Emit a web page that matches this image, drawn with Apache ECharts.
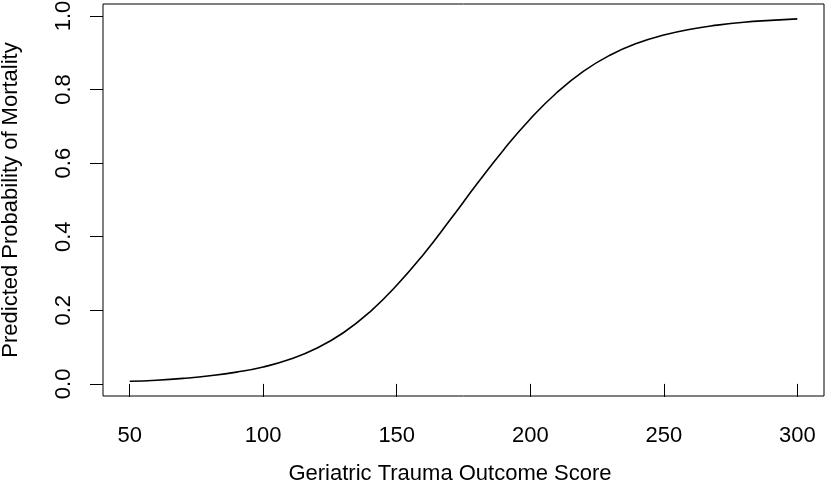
<!DOCTYPE html>
<html>
<head>
<meta charset="utf-8">
<script src="https://cdn.jsdelivr.net/npm/echarts@6/dist/echarts.min.js"></script>
<style>
html,body{margin:0;padding:0;background:#fff;}
#chart{width:827px;height:495px;}
</style>
</head>
<body>
<div id="chart"></div>
<script>
// Geriatric Trauma Outcome Score (x) and predicted probability of mortality (y)
var scoreValues = [50, 60, 70, 80, 90, 100, 110, 120, 130, 140, 150, 160, 170, 180, 190, 200, 210, 220, 230, 240, 250, 260, 270, 280, 290, 300];
var probValues  = [0.007, 0.010, 0.015, 0.022, 0.032, 0.046, 0.067, 0.097, 0.139, 0.196, 0.268, 0.352, 0.446, 0.543, 0.636, 0.720, 0.792, 0.850, 0.894, 0.926, 0.948, 0.964, 0.975, 0.983, 0.988, 0.992];
var xTicks = [50, 100, 150, 200, 250, 300];
var yTicks = [0, 0.2, 0.4, 0.6, 0.8, 1.0];
var xTitle = 'Geriatric Trauma Outcome Score';
var yTitle = 'Predicted Probability of Mortality';

var FONT = '"Liberation Sans", Arial, Helvetica, sans-serif';
var chart = echarts.init(document.getElementById('chart'), null, {renderer: 'canvas'});
var points = scoreValues.map(function (x, i) { return [x, probValues[i]]; });

chart.setOption({
  animation: false,
  backgroundColor: '#ffffff',
  grid: {
    left: 103, right: 3, top: 4, bottom: 99,
    outerBoundsMode: 'none',
    containLabel: false,
    show: true, borderColor: '#000', borderWidth: 1, backgroundColor: 'transparent'
  },
  xAxis: {
    type: 'value',
    min: 40, max: 310,
    name: xTitle,
    nameLocation: 'middle',
    nameGap: 67,
    nameTextStyle: {fontFamily: FONT, fontSize: 22, color: '#000', padding: [0, 27, 0, 0]},
    axisLine: {show: false},
    splitLine: {show: false},
    axisTick: {show: true, length: 13, customValues: xTicks, lineStyle: {color: '#000', width: 1}},
    axisLabel: {
      customValues: xTicks,
      margin: 29,
      fontFamily: FONT, fontSize: 22, color: '#000',
      formatter: function (v) { return String(v); }
    }
  },
  yAxis: {
    type: 'value',
    min: -0.0329, max: 1.0325,
    name: yTitle,
    nameLocation: 'middle',
    nameGap: 81,
    nameRotate: 90,
    nameTextStyle: {fontFamily: FONT, fontSize: 22, color: '#000'},
    axisLine: {show: false},
    splitLine: {show: false},
    axisTick: {show: true, length: 13, customValues: yTicks, lineStyle: {color: '#000', width: 1}},
    axisLabel: {
      customValues: yTicks,
      rotate: 90,
      margin: 28,
      fontFamily: FONT, fontSize: 22, color: '#000',
      formatter: function (v) { return v.toFixed(1); }
    }
  },
  series: [{
    type: 'line',
    data: points,
    smooth: true,
    showSymbol: false,
    lineStyle: {color: '#000', width: 1.6},
    silent: true
  }]
});
</script>
</body>
</html>
